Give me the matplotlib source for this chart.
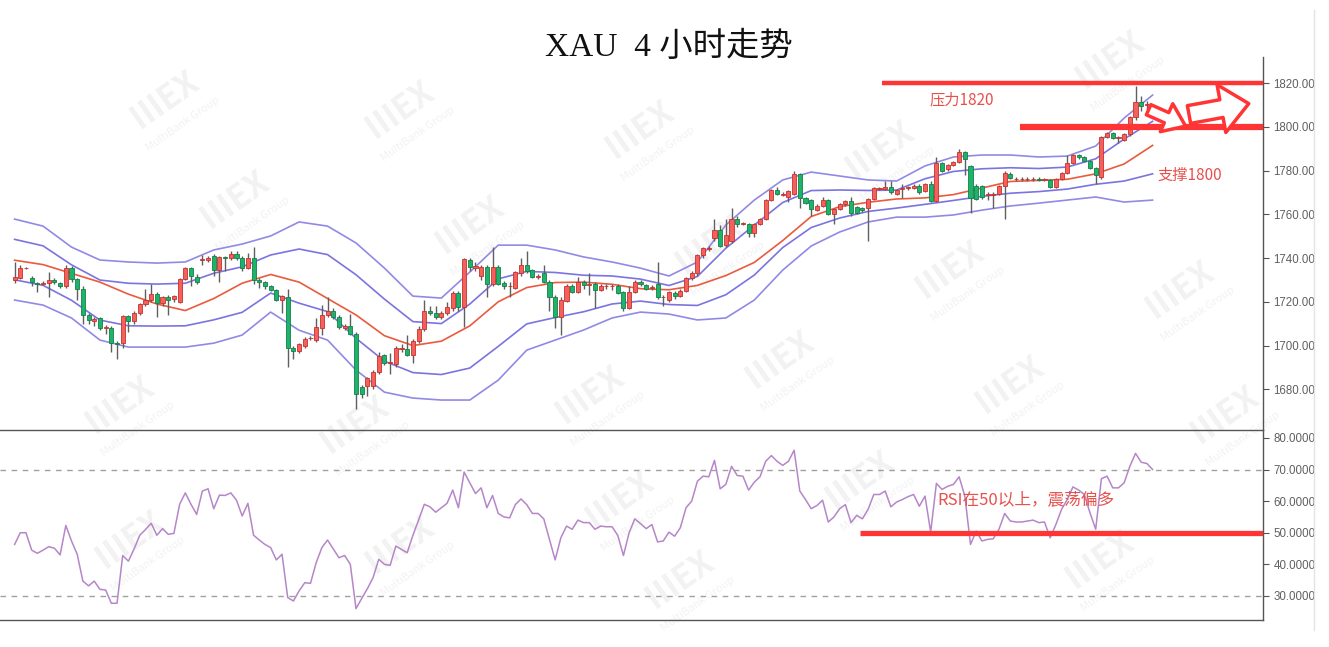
import numpy as np
import matplotlib
matplotlib.use("Agg")
import matplotlib.pyplot as plt

plt.rcParams['font.family'] = ['Noto Sans CJK SC', 'DejaVu Sans']

# ---- 4h candles (open / high / low / close) ----
opens = [1730, 1731, 1735.3, 1731, 1728.5, 1728.3, 1728.5, 1730, 1728.5, 1727,
         1735.5, 1730.5, 1726, 1714, 1711.2, 1712.5, 1708, 1708, 1701, 1701,
         1713.5, 1711, 1715, 1719, 1721, 1723.5, 1719.5, 1722, 1721.5, 1720,
         1730.5, 1735.5, 1731.5, 1739, 1739, 1741, 1734.5, 1740.3, 1740, 1742,
         1740, 1735.5, 1740, 1730, 1729, 1727, 1725.5, 1721, 1722, 1699,
         1697.5, 1700, 1703.3, 1702.5, 1708, 1714, 1716, 1713, 1708, 1709,
         1705.5, 1681, 1681.5, 1681.5, 1688, 1695.5, 1692, 1691.5, 1698.5, 1698.5,
         1695.5, 1702, 1707.5, 1716, 1715, 1713, 1715, 1717, 1724, 1717.5,
         1739, 1735.5, 1732, 1736, 1728, 1736, 1728.5, 1727, 1726.5, 1733,
         1737, 1734.5, 1731.5, 1733, 1729, 1722, 1713, 1720.5, 1727, 1724.5,
         1729, 1727.8, 1728, 1725.5, 1727, 1727, 1727, 1724.5, 1717, 1724.5,
         1729, 1727.5, 1726.5, 1728, 1722, 1721, 1724, 1722.5, 1725, 1731,
         1733, 1741.5, 1744.3, 1749, 1753, 1746, 1748, 1758, 1755.7, 1755.5,
         1751.5, 1755.5, 1758, 1766.5, 1771, 1769, 1768, 1769.5, 1778.5, 1767.5,
         1766.5, 1762, 1764, 1766.5, 1760, 1762.5, 1764.5, 1766, 1763.5, 1763,
         1763, 1767, 1771.7, 1771.5, 1772.5, 1769.5, 1771.5, 1772, 1772, 1773,
         1770.5, 1774, 1766, 1783.5, 1780.5, 1782.5, 1784, 1788.5, 1782, 1773,
         1773, 1769, 1769, 1769.5, 1773, 1778.5, 1776, 1776, 1776, 1776,
         1776, 1775.5, 1775.5, 1772.5, 1776, 1779, 1783.5, 1787, 1786, 1784.5,
         1781, 1777, 1795.5, 1797, 1795, 1794, 1796.5, 1804.5, 1811.5, 1810,
         1809.5]
highs = [1738, 1737, 1736, 1732, 1729, 1729.5, 1733.5, 1731, 1729, 1737,
         1736.5, 1731, 1727, 1715, 1713, 1713, 1709.5, 1709, 1702, 1714,
         1714, 1716, 1719.5, 1726, 1728, 1724.5, 1722.5, 1723, 1723, 1731,
         1736, 1736, 1732.5, 1741.5, 1741, 1742, 1741, 1741, 1743, 1743,
         1741, 1742.5, 1745, 1731, 1729.5, 1727.5, 1726, 1723, 1726, 1700,
         1701, 1704, 1704.5, 1712.5, 1718.5, 1722, 1717, 1714, 1710, 1714.5,
         1706, 1682, 1685.5, 1689, 1697, 1696, 1696.5, 1700, 1700.5, 1705,
         1703, 1709, 1721, 1718, 1718, 1716, 1720, 1725, 1725, 1740,
         1740, 1738, 1737, 1737, 1745, 1737, 1729.5, 1729, 1734, 1740,
         1743, 1735, 1732.5, 1737, 1730, 1723, 1722, 1728, 1728, 1731.5,
         1730, 1733, 1729, 1728, 1728, 1728, 1728, 1725, 1727, 1730,
         1730, 1728, 1727.5, 1738, 1723, 1725, 1725, 1726, 1731.5, 1734,
         1742, 1745, 1745.5, 1758, 1755, 1758, 1763, 1759, 1756.5, 1756,
         1756, 1758.5, 1767, 1771.5, 1772.5, 1770, 1771, 1780, 1779, 1768,
         1767, 1764.5, 1768, 1767, 1763, 1765, 1766.5, 1768, 1764, 1763.5,
         1767.5, 1772.5, 1772.5, 1775, 1775, 1771.5, 1774, 1773, 1774, 1774,
         1774.5, 1775, 1786, 1784, 1783, 1784.5, 1790, 1789, 1782.5, 1774,
         1773.5, 1770, 1770, 1773.5, 1780, 1779.5, 1777, 1777, 1777, 1777,
         1777, 1776.5, 1776, 1776.5, 1779.5, 1787, 1787.5, 1787.5, 1786.5, 1785,
         1781.5, 1796, 1797.5, 1797.5, 1796, 1797, 1805, 1818.5, 1814, 1812,
         1810.5]
lows = [1728.5, 1730.5, 1735, 1727, 1724.5, 1727.5, 1722, 1728, 1726.5, 1726.5,
        1729, 1721, 1710, 1710, 1709, 1707, 1705.5, 1697, 1694, 1699,
        1706, 1710, 1714, 1718, 1720, 1713, 1718, 1714, 1720, 1719.5,
        1730, 1727, 1728, 1737, 1738, 1732, 1729, 1734, 1739, 1739,
        1734, 1735, 1728, 1726.5, 1726, 1725, 1720.5, 1715, 1690, 1694,
        1696.5, 1699, 1702.5, 1701.5, 1705, 1713, 1712, 1707.5, 1707, 1705,
        1671, 1676, 1677, 1680, 1687, 1691, 1687, 1690, 1697, 1695,
        1692, 1701, 1706.5, 1714, 1712, 1712, 1714, 1716, 1716, 1708.5,
        1734, 1734, 1730, 1722, 1727, 1727.5, 1726, 1722, 1726, 1732,
        1733, 1731, 1730.5, 1728.5, 1716, 1708, 1705, 1720, 1724, 1724,
        1726, 1723, 1717, 1725, 1726, 1725.5, 1723.5, 1716, 1716.5, 1724,
        1727, 1725.5, 1725.5, 1721.5, 1718, 1720, 1721.5, 1722, 1724.5, 1730,
        1732, 1740, 1743, 1748, 1745, 1745, 1747, 1754, 1755, 1749.5,
        1749.5, 1755, 1757.5, 1766, 1769, 1768.5, 1765.5, 1769, 1763, 1764.5,
        1759, 1761.5, 1763.5, 1759.5, 1755.5, 1762, 1764, 1759, 1760, 1761,
        1748, 1766.5, 1771, 1771, 1769.5, 1769, 1767.5, 1771, 1771.5, 1769.5,
        1770, 1765.5, 1765.5, 1779.5, 1780, 1782, 1783.5, 1778, 1760.5, 1766.5,
        1767, 1766.5, 1763, 1769, 1758, 1776, 1775, 1775, 1775, 1775,
        1775, 1775, 1772, 1772, 1775.5, 1778.5, 1783, 1785.5, 1784, 1780.5,
        1774, 1776, 1795, 1794.5, 1792.5, 1793.5, 1796, 1803, 1807, 1807.7,
        1806.5]
closes = [1731.3, 1735.5, 1735.5, 1729, 1728.3, 1728.7, 1730, 1729, 1727, 1735.5,
          1730.5, 1726, 1714, 1711.5, 1712, 1708, 1708.2, 1701, 1700.8, 1713.5,
          1711, 1715, 1719, 1721, 1723.5, 1719.5, 1722, 1721, 1722.5, 1730.5,
          1735.5, 1732, 1729, 1739.5, 1740, 1734.5, 1740.5, 1740, 1742, 1740,
          1735.5, 1740, 1730, 1729, 1727, 1725.5, 1721, 1722.5, 1699, 1697.5,
          1700.5, 1703, 1703.5, 1708.5, 1714, 1716, 1713, 1708.5, 1709, 1705.5,
          1678, 1678, 1685, 1688, 1695, 1692, 1692.3, 1699, 1698.8, 1695.5,
          1702, 1707.5, 1716, 1715, 1713, 1715, 1717.5, 1724, 1717.5, 1739.5,
          1736, 1736.5, 1736, 1728, 1736, 1728, 1727, 1727.2, 1733.5, 1737,
          1734, 1731.5, 1731.7, 1729, 1722, 1713, 1721, 1727, 1724.5, 1729,
          1727.5, 1728, 1725.5, 1727, 1727.2, 1727.2, 1724, 1717, 1724.5, 1729,
          1728, 1726, 1726.7, 1722, 1722.2, 1724.5, 1722.5, 1725, 1731, 1733,
          1741.5, 1744.5, 1744.5, 1753, 1745.5, 1750.5, 1758, 1755.5, 1756, 1751.5,
          1755.5, 1758, 1766.5, 1771, 1769.5, 1769.2, 1770.5, 1778.5, 1767.5, 1765,
          1762.5, 1764, 1766.5, 1760, 1762.5, 1764.5, 1766, 1760.5, 1760.5, 1762,
          1767, 1772, 1772, 1772.5, 1770, 1771, 1771.6, 1772.2, 1773, 1770,
          1774, 1766, 1783.5, 1780, 1782.5, 1784, 1788.5, 1785.5, 1767.5, 1767,
          1768, 1769.2, 1769.2, 1773, 1779, 1776.5, 1776.2, 1776.2, 1776.2, 1776.2,
          1775.8, 1776, 1772.5, 1776, 1779, 1783.5, 1787, 1786, 1784.5, 1781,
          1778, 1795.5, 1797, 1795, 1795.2, 1796.5, 1804.5, 1811.5, 1809.5, 1810.2,
          1809.7]

# ---- band lines, read every 5 candles ----
band_idx = list(range(0, 201, 5))
band_top = [1757.8, 1754.6, 1745.0, 1739.1, 1738.2, 1737.7, 1738.2, 1743.7, 1746.4, 1750.1,
            1756.5, 1754.6, 1746.9, 1735.4, 1722.6, 1721.7, 1733.6, 1745.9, 1745.9, 1743.7,
            1740.5, 1738.2, 1735.4, 1731.8, 1738.2, 1755.1, 1766.5, 1775.7, 1779.3, 1777.5,
            1775.7, 1775.2, 1782.1, 1786.2, 1787.1, 1787.1, 1786.2, 1786.6, 1791.2, 1804.0,
            1814.5]
band_bottom = [1720.8, 1718.5, 1712.6, 1702.5, 1699.3, 1699.3, 1699.3, 1701.1, 1704.8, 1715.3,
               1707.0, 1702.5, 1688.8, 1678.7, 1676.0, 1675.1, 1675.1, 1684.2, 1697.9, 1702.5,
               1707.1, 1712.6, 1715.3, 1714.4, 1711.7, 1712.6, 1720.8, 1734.5, 1745.5, 1751.9,
               1756.5, 1758.7, 1758.7, 1759.7, 1761.9, 1763.8, 1765.1, 1766.5, 1767.9, 1765.6,
               1766.5]
ma_line = [1739, 1737, 1733, 1729, 1723.5, 1719, 1716, 1721.5, 1728.5, 1732.5,
           1729, 1721.5, 1714, 1704.5, 1700, 1702, 1709, 1720, 1726.5, 1728.8,
           1729, 1728, 1726, 1725.5, 1727.5, 1732, 1738, 1748, 1759, 1763.5,
           1765.5, 1767, 1767.5, 1769, 1772, 1775, 1775.5, 1776, 1778.5, 1783,
           1791.5]

# ---- RSI ----
rsi = [46.3, 50, 50, 44.5, 43.5, 44.5, 45.6, 45.1, 43, 52.3,
       47.4, 43.2, 34.7, 33.2, 34.7, 32.1, 31.9, 27.7, 27.7, 42.8,
       41, 44.9, 49.2, 51, 53, 49.2, 51.3, 49.5, 49.8, 59,
       62.6, 59, 55.8, 63.2, 63.9, 57.6, 61.9, 61.8, 62.6, 60.3,
       55.3, 59.3, 49.2, 47.7, 46.3, 45.3, 41.4, 43.2, 29.5, 28.4,
       31.6, 34.2, 34, 40.5, 45.3, 47.7, 44.9, 42.1, 42.8, 40,
       26, 29.2, 32.3, 35.8, 41.6, 40, 39.7, 45.8, 44.7, 43.7,
       49.2, 54, 59, 58.2, 56.5, 57.9, 59.3, 63.5, 57.9, 69.2,
       65.8, 62.4, 64.2, 57.9, 61.8, 56.1, 55, 54.7, 58.9, 60.7,
       58.9, 56.1, 56.1, 54.4, 47.9, 41.4, 48.4, 52.1, 51.1, 54,
       53.2, 53.2, 51.1, 52.1, 51.9, 51.9, 49.2, 42.8, 50, 54.4,
       52.9, 51.3, 52.6, 47.1, 47.4, 50.2, 48.9, 51.6, 57.9, 60,
       66.3, 67.9, 67.7, 72.9, 63.9, 65.3, 71, 68.1, 67.9, 63.5,
       66, 67.7, 72.6, 74.4, 72.6, 71.3, 72.6, 76.1, 63.2, 60.5,
       57.6, 58.6, 60.3, 53.4, 55, 57.6, 58.9, 53.2, 55.5, 54.4,
       57.4, 62.1, 62.1, 63.2, 58.2, 59.7, 60.5, 61.4, 62.1, 58.4,
       61.6, 50.2, 65.6, 63.7, 64.7, 65.3, 67.7, 61.6, 46.3, 50.5,
       47.4, 47.9, 48.1, 51.1, 56.1, 53.7, 53.4, 53.4, 53.7, 54,
       53.2, 53.4, 48.4, 52.6, 57.4, 60.5, 64.5, 63.5, 62.1, 56.3,
       51.1, 67.1, 67.9, 64.2, 64.2, 65.8, 71, 75.1, 72.3, 71.9,
       70]

price_ticks = [1680, 1700, 1720, 1740, 1760, 1780, 1800, 1820]
rsi_ticks = [30, 40, 50, 60, 70, 80]

o = np.array(opens); h = np.array(highs); l = np.array(lows); c = np.array(closes)
x = np.arange(len(c))

W, H = 1329, 647
fig = plt.figure(figsize=(W / 100, H / 100), dpi=100)

# faint MultiBank watermarks behind everything
wm_pos = [(165, 100), (400, 110), (640, 130), (880, 150), (1110, 60),
          (235, 200), (470, 225), (710, 245), (950, 270), (1180, 290),
          (120, 405), (355, 425), (590, 395), (780, 360), (1010, 385), (1225, 415),
          (130, 540), (400, 545), (620, 500), (860, 480), (1100, 560), (680, 580)]
for px, py in wm_pos:
    fig.text(px / W, 1 - py / H, "IIIEX", fontsize=24, fontweight='bold',
             color='#f2f2f2', rotation=35, ha='center', va='center', zorder=0)
    fig.text((px + 18) / W, 1 - (py + 24) / H, "MultiBank Group", fontsize=8,
             color='#f2f2f2', rotation=35, ha='center', va='center', zorder=0)

left, right = 0.0, 1263 / W
ax = fig.add_axes([left, 1 - 430 / H, right - left, (430 - 57) / H], zorder=1)
ax2 = fig.add_axes([left, 1 - 620 / H, right - left, (620 - 430) / H], zorder=1, sharex=ax)
for a in (ax, ax2):
    a.set_facecolor('none')

# ---- candles ----
up = c >= o
wick_col = '#5f5f5f'
ax.vlines(x, l, h, color=wick_col, lw=1, zorder=2)
body_h = np.maximum(np.abs(c - o), 0.3)
body_b = np.minimum(o, c)
ax.bar(x[up], body_h[up], bottom=body_b[up], width=0.72, color='#f2615b',
       edgecolor='#c9302c', lw=0.6, zorder=3)
ax.bar(x[~up], body_h[~up], bottom=body_b[~up], width=0.72, color='#1eb36b',
       edgecolor='#138048', lw=0.6, zorder=3)

# ---- bands: outer lines as read, inner lines at the 1-sigma quarter points ----
bi = np.array(band_idx)
bt = np.array(band_top); bb = np.array(band_bottom)
centre = (bt + bb) / 2
ax.plot(bi, bt, color='#9189e6', lw=1.2, zorder=1)
ax.plot(bi, (bt + centre) / 2, color='#7b74e0', lw=1.2, zorder=1)
ax.plot(bi, (bb + centre) / 2, color='#7b74e0', lw=1.2, zorder=1)
ax.plot(bi, bb, color='#9189e6', lw=1.2, zorder=1)
ax.plot(bi, ma_line, color='#ea5a3c', lw=1.2, zorder=1)

xmin = -14.6 / 5.69
xmax = (1263 - 14.6) / 5.69
ax.set_xlim(xmin, xmax)
ax.set_ylim(1661.4, 1831.9)

# resistance / support marks
red = '#ff3535'
ax.hlines(1820, (882 - 14.6) / 5.69, xmax, color=red, lw=3.2, zorder=4)
ax.hlines(1800, (1020 - 14.6) / 5.69, xmax, color=red, lw=4.5, zorder=4)
ax.text(166.5, 1812.2, "压力1820", color='#e8504c', fontsize=11, ha='center', va='center')
ax.text(206.6, 1778, "支撑1800", color='#e8504c', fontsize=11, ha='center', va='center')

ax.annotate('', xy=(205.8, 1800.3), xytext=(199.3, 1807.8),
            arrowprops=dict(arrowstyle='simple,head_length=15,head_width=22,tail_width=8',
                            mutation_scale=1, fc='white', ec=red, lw=2.5,
                            shrinkA=0, shrinkB=0), zorder=5)
ax.annotate('', xy=(216.9, 1810.6), xytext=(206.4, 1805.6),
            arrowprops=dict(arrowstyle='simple,head_length=20,head_width=35,tail_width=13',
                            mutation_scale=1, fc='white', ec=red, lw=2.5,
                            shrinkA=0, shrinkB=0), zorder=5)

# ---- RSI panel ----
ax2.plot(x, rsi, color='#b586c8', lw=1.1, zorder=3)
for lvl in (70, 30):
    ax2.axhline(lvl, color='#a0a0a0', lw=1, ls=(0, (4, 4)), zorder=1)
ax2.hlines(50, (860 - 14.6) / 5.69, xmax, color=red, lw=3.8, zorder=4)
ax2.text(177.8, 60.6, "RSI在50以上，震荡偏多", color='#e8504c', fontsize=12,
         ha='center', va='center', zorder=5)
ax2.set_ylim(22.4, 82.5)

# ---- axes cosmetics ----
ax.set_yticks(price_ticks)
ax.set_yticklabels(["%.2f" % v for v in price_ticks])
ax2.set_yticks(rsi_ticks)
ax2.set_yticklabels(["%.4f" % v for v in rsi_ticks])
for a in (ax, ax2):
    a.yaxis.tick_right()
    a.tick_params(axis='y', direction='out', length=4, width=0.8, color='#555555',
                  labelcolor='#606060', labelsize=8.3, pad=3.5)
    a.tick_params(axis='x', bottom=False, labelbottom=False)
    for lab in a.get_yticklabels():
        lab.set_family(['Liberation Sans', 'DejaVu Sans'])
    a.spines['left'].set_visible(False)
    a.spines['top'].set_visible(False)
    a.spines['right'].set_color('#555555')
    a.spines['bottom'].set_color('#555555')
    a.spines['right'].set_linewidth(1)
    a.spines['bottom'].set_linewidth(1)

# faint frame line at the far right of the picture
fig.add_artist(plt.Line2D([1314 / W, 1314 / W], [1 - 630 / H, 1 - 10 / H],
                          color='#e4e4e4', lw=1, transform=fig.transFigure))

fig.text(669 / W, 1 - 47 / H, "XAU  4 小时走势", fontsize=24,
         family=['Liberation Serif', 'Noto Sans CJK SC'],
         ha='center', va='center', color='#111111')

fig.savefig('out.png', dpi=100, facecolor='white')
